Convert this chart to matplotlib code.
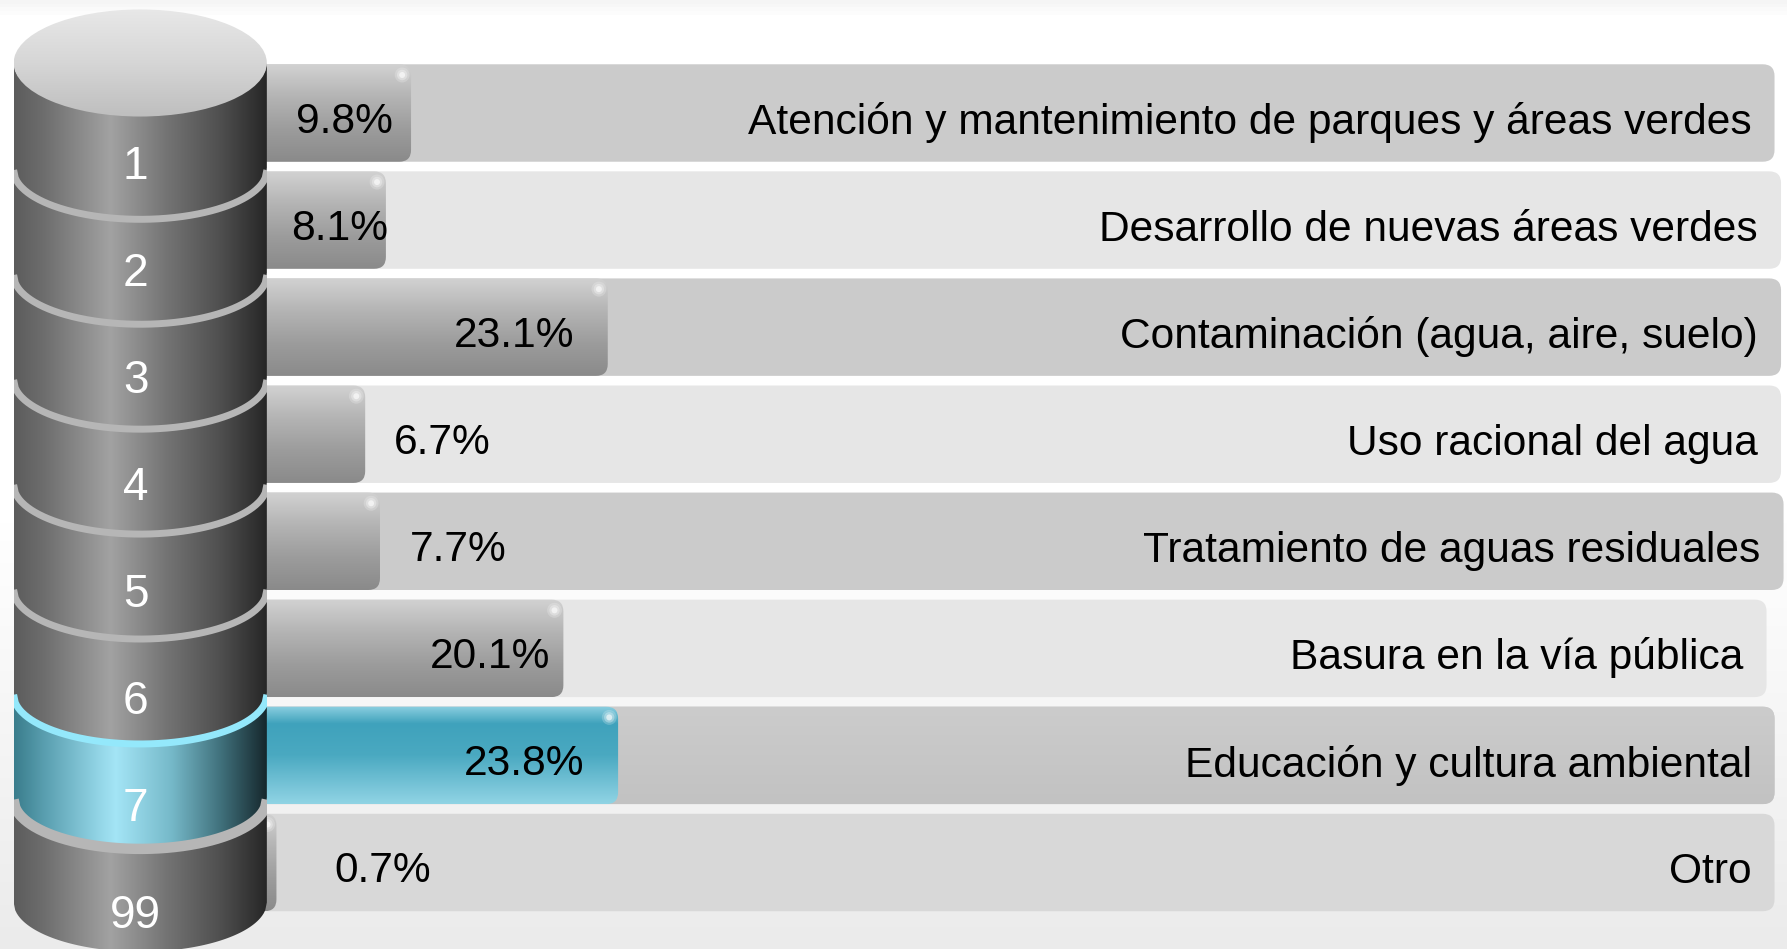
import numpy as np
import matplotlib
matplotlib.use("Agg")
import matplotlib.pyplot as plt
from matplotlib.patches import FancyBboxPatch, PathPatch, Ellipse, Rectangle
from matplotlib.path import Path
from matplotlib.colors import LinearSegmentedColormap

plt.rcParams['font.family'] = ['Liberation Sans', 'DejaVu Sans']

# data
codes = ["1", "2", "3", "4", "5", "6", "7", "99"]
labels = ["Atención y mantenimiento de parques y áreas verdes",
          "Desarrollo de nuevas áreas verdes",
          "Contaminación (agua, aire, suelo)",
          "Uso racional del agua",
          "Tratamiento de aguas residuales",
          "Basura en la vía pública",
          "Educación y cultura ambiental",
          "Otro"]
values = [9.8, 8.1, 23.1, 6.7, 7.7, 20.1, 23.8, 0.7]
highlight = 6

# layout (percent units on x, row units on y)
row_ends = [101.99, 102.43, 102.43, 102.43, 102.6, 101.45, 101.99, 101.99]
value_x = [5.28, 4.97, 16.76, 11.91, 12.99, 15.14, 17.46, 7.90]
row_fill = ['#cbcbcb', '#e6e6e6', '#cbcbcb', '#e6e6e6', '#cbcbcb', '#e6e6e6', '#c8c8c8', '#d8d8d8']

W, H, DPI = 1787, 949, 100
PX_X, PX_Y = 14.79, 107.07
X0, Y0 = 266.1, 113.0
xlim = (-X0 / PX_X, (W - X0) / PX_X)
ylim = ((H - Y0) / PX_Y, -Y0 / PX_Y)
asp = PX_X / PX_Y
rh = 0.91
fs = 30.6

gray_bar = LinearSegmentedColormap.from_list('gb', ['#d2d2d2', '#b4b4b4', '#9c9c9c', '#8a8a8a'])
cyan_bar = LinearSegmentedColormap.from_list('cb', [(0, '#8ccfe0'), (0.18, '#3fa2bc'), (0.5, '#4aa9c1'),
                                                    (0.85, '#7cc7da'), (1, '#90d4e4')])
gray_cyl = LinearSegmentedColormap.from_list('gc', [(0, '#5c5c5c'), (0.12, '#6e6e6e'), (0.38, '#a2a2a2'),
                                                    (0.6, '#747474'), (0.82, '#4e4e4e'), (1, '#262626')])
cyan_cyl = LinearSegmentedColormap.from_list('cc', [(0, '#3a7d8c'), (0.12, '#5a9fb0'), (0.4, '#a4e5f6'),
                                                    (0.62, '#76b9c9'), (0.82, '#3f6f7a'), (1, '#15262b')])
cap_cmap = LinearSegmentedColormap.from_list('cap', ['#e8e8e8', '#d6d6d6', '#bebebe'])
bg_cmap = LinearSegmentedColormap.from_list('bg', [(0, '#f5f5f5'), (0.015, '#ffffff'), (0.55, '#ffffff'), (1, '#ebebeb')])

fig = plt.figure(figsize=(W / DPI, H / DPI), dpi=DPI)
ax = fig.add_axes([0, 0, 1, 1])
ax.set_axis_off()

vgrad = np.linspace(0, 1, 256).reshape(-1, 1)
hgrad = np.linspace(0, 1, 256).reshape(1, -1)

# page background
ax.imshow(vgrad, cmap=bg_cmap, extent=[xlim[0], xlim[1], ylim[0], ylim[1]],
          origin='upper', aspect='auto', zorder=0)


def rounded(x, y, w, h, **kw):
    p = FancyBboxPatch((x, y), w, h, boxstyle="round,pad=0,rounding_size=0.8",
                       mutation_aspect=asp, **kw)
    ax.add_patch(p)
    return p


# rows: background strips, bars, texts
for i, (lab, v) in enumerate(zip(labels, values)):
    top = i - rh / 2
    rounded(-3, top, row_ends[i] + 3, rh, fc=row_fill[i], ec='none', zorder=1)
    if i == highlight:
        p = rounded(-3, top, row_ends[i] + 3, rh, fc='none', ec='none', zorder=1.1)
        im = ax.imshow(vgrad, cmap=LinearSegmentedColormap.from_list('r7', ['#cccccc', '#c2c2c2']),
                       extent=[-3, row_ends[i], top + rh, top], origin='upper', aspect='auto', zorder=1.1)
        im.set_clip_path(p)

    bar = rounded(-3, top, v + 3, rh, fc='none', ec='none', zorder=2)
    cmap = cyan_bar if i == highlight else gray_bar
    im = ax.imshow(vgrad, cmap=cmap, extent=[-3, v, top + rh, top],
                   origin='upper', aspect='auto', zorder=2)
    im.set_clip_path(bar)
    # soft gloss in the top right corner
    for s, al in [(1.0, 0.2), (0.7, 0.3), (0.4, 0.6)]:
        g = Ellipse((v - 0.6, top + 0.1), 1.0 * s, 0.14 * s, fc='white', ec='none', alpha=al, zorder=2.5)
        ax.add_patch(g)
        g.set_clip_path(bar)

    ax.text(value_x[i], i + 0.08, f"{v}%", ha='center', va='center', fontsize=fs, color='black', zorder=5)
    ax.text(row_ends[i] - 1.55, i + 0.09, lab, ha='right', va='center', fontsize=fs, color='black', zorder=5)

# cylinder
xl, xr = -17.07, 0.05
a = (xr - xl) / 2
xc = (xl + xr) / 2
d = 0.46
bounds = [-0.467 + 0.98 * k for k in range(len(codes) + 1)]
u = np.linspace(-1, 1, 160)
body = Rectangle((xl, bounds[0]), xr - xl, bounds[-1] + d - bounds[0], fc='none', ec='none')
ax.add_patch(body)


def arc(y, semi):
    return xc + a * u, y + semi * np.sqrt(1 - u ** 2)


for i in range(len(codes)):
    tx, ty = arc(bounds[i], d)
    bx, by = arc(bounds[i + 1], d)
    verts = np.vstack([np.column_stack([tx, ty]), np.column_stack([bx[::-1], by[::-1]]), [[tx[0], ty[0]]]])
    seg = PathPatch(Path(verts, closed=True), fc='none', ec='none', zorder=6)
    ax.add_patch(seg)
    cmap = cyan_cyl if i == highlight else gray_cyl
    im = ax.imshow(hgrad, cmap=cmap, extent=[xl, xr, bounds[i + 1] + d, bounds[i]],
                   origin='upper', aspect='auto', zorder=6)
    im.set_clip_path(seg)
    if i > 0:
        rc = '#94e8fb' if i == highlight else '#b6b6b6'
        lw = 7.5 if i == highlight + 1 else 5.0
        ring, = ax.plot(tx, ty + 0.02, color=rc, lw=lw, solid_capstyle='butt', zorder=7)
        ring.set_clip_path(body)
    ax.text(xc - 0.3, i + 0.5, codes[i], ha='center', va='center', fontsize=fs + 2.5, color='white', zorder=8)

cap = Ellipse((xc, bounds[0]), 2 * a, 2 * 0.5, fc='none', ec='none', zorder=7)
ax.add_patch(cap)
im = ax.imshow(vgrad, cmap=cap_cmap, extent=[xl, xr, bounds[0] + 0.5, bounds[0] - 0.5],
               origin='upper', aspect='auto', zorder=7)
im.set_clip_path(cap)

ax.set_xlim(*xlim)
ax.set_ylim(*ylim)
fig.savefig("out.png", dpi=DPI)
